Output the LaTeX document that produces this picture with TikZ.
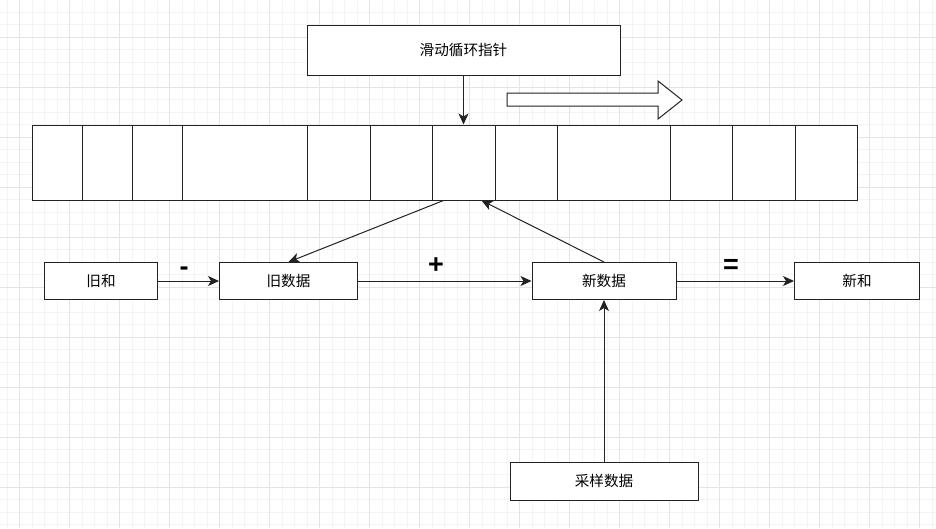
\documentclass[tikz,border=0pt]{standalone}
\usepackage{fontspec}
\setmainfont{Liberation Sans}
\newfontfamily\cjk{Noto Sans CJK SC}
\usetikzlibrary{arrows.meta,calc,positioning}
\definecolor{gridmajor}{HTML}{E4E4E4}
\definecolor{gridminor}{HTML}{F4F4F4}
\definecolor{edge}{HTML}{222222}
\tikzset{
  box/.style={draw=edge,line width=1pt,fill=white,inner sep=0pt,
    font=\cjk\fontsize{14.6}{16}\selectfont},
  cell/.style={draw=edge,line width=1pt,fill=white,minimum height=75pt,inner sep=0pt},
  conn/.style={draw=edge,line width=1pt,-{Stealth[length=11pt,width=10pt,inset=3pt]}},
  opl/.style={font=\bfseries\fontsize{27}{28}\selectfont,inner sep=0pt},
}
\begin{document}
\begin{tikzpicture}[x=1pt,y=-1pt]
\useasboundingbox (0,0) rectangle (936,528);
\fill[white] (0,0) rectangle (936,528);
% grid
\foreach \i in {0,...,75} {\draw[gridminor,line width=0.8pt] ({7+12.5*\i},0) -- ({7+12.5*\i},528);}
\foreach \i in {0,...,42} {\draw[gridminor,line width=0.8pt] (0,{-0.5+12.5*\i}) -- (936,{-0.5+12.5*\i});}
\foreach \i in {0,...,18} {\draw[gridmajor,line width=0.9pt] ({19.5+50*\i},0) -- ({19.5+50*\i},528);}
\foreach \i in {0,...,10} {\draw[gridmajor,line width=0.9pt] (0,{37+50*\i}) -- (936,{37+50*\i});}
% top pointer box
\node[box,minimum width=313pt,minimum height=50pt] (ptr) at (463.5,50) {滑动循环指针};
% block arrow
\draw[draw=edge,line width=1pt,fill=white] (507,93) -- (658,93) -- (658,81) -- (682,100) -- (658,119) -- (658,106) -- (507,106) -- cycle;
% array cells
\foreach \n/\a/\b in {1/32/82,2/82/132,3/132/182,4/182/307,5/307/370,6/370/432,7/432/495,8/495/557,9/557/670,10/670/732,11/732/795,12/795/857}{
  \node[cell,minimum width={(\b-\a)*1pt}] (c\n) at ({(\a+\b)/2},162.5) {};
}
% lower boxes
\node[box,minimum width=113pt,minimum height=37pt] (oldsum) at (101,281) {旧和};
\node[box,minimum width=138pt,minimum height=37pt] (old) at (288.5,281) {旧数据};
\node[box,minimum width=144pt,minimum height=37pt] (new) at (604,281) {新数据};
\node[box,minimum width=125pt,minimum height=37pt] (newsum) at (857,281) {新和};
\node[box,minimum width=188pt,minimum height=38pt] (sample) at (604,481) {采样数据};
% connectors
\draw[conn] (ptr.south) -- (c7.north);
\coordinate (outpt) at ($(c7.south west)+(12,0)$);
\coordinate (inpt) at ($(c7.south west)+(50,0)$);
\draw[conn] (outpt) -- (old.north);
\draw[conn] (new.north) -- (inpt);
\draw[conn] (oldsum.east) -- (old.west);
\draw[conn] (old.east) -- (new.west);
\draw[conn] (new.east) -- (newsum.west);
\draw[conn] (sample.north) -- (new.south);
% operator labels
\node[opl] (minus) at (184,271) {-};
\node[opl] (plus) at (436,266) {+};
\node[opl] (eq) at (731,266) {=};
\end{tikzpicture}
\end{document}
